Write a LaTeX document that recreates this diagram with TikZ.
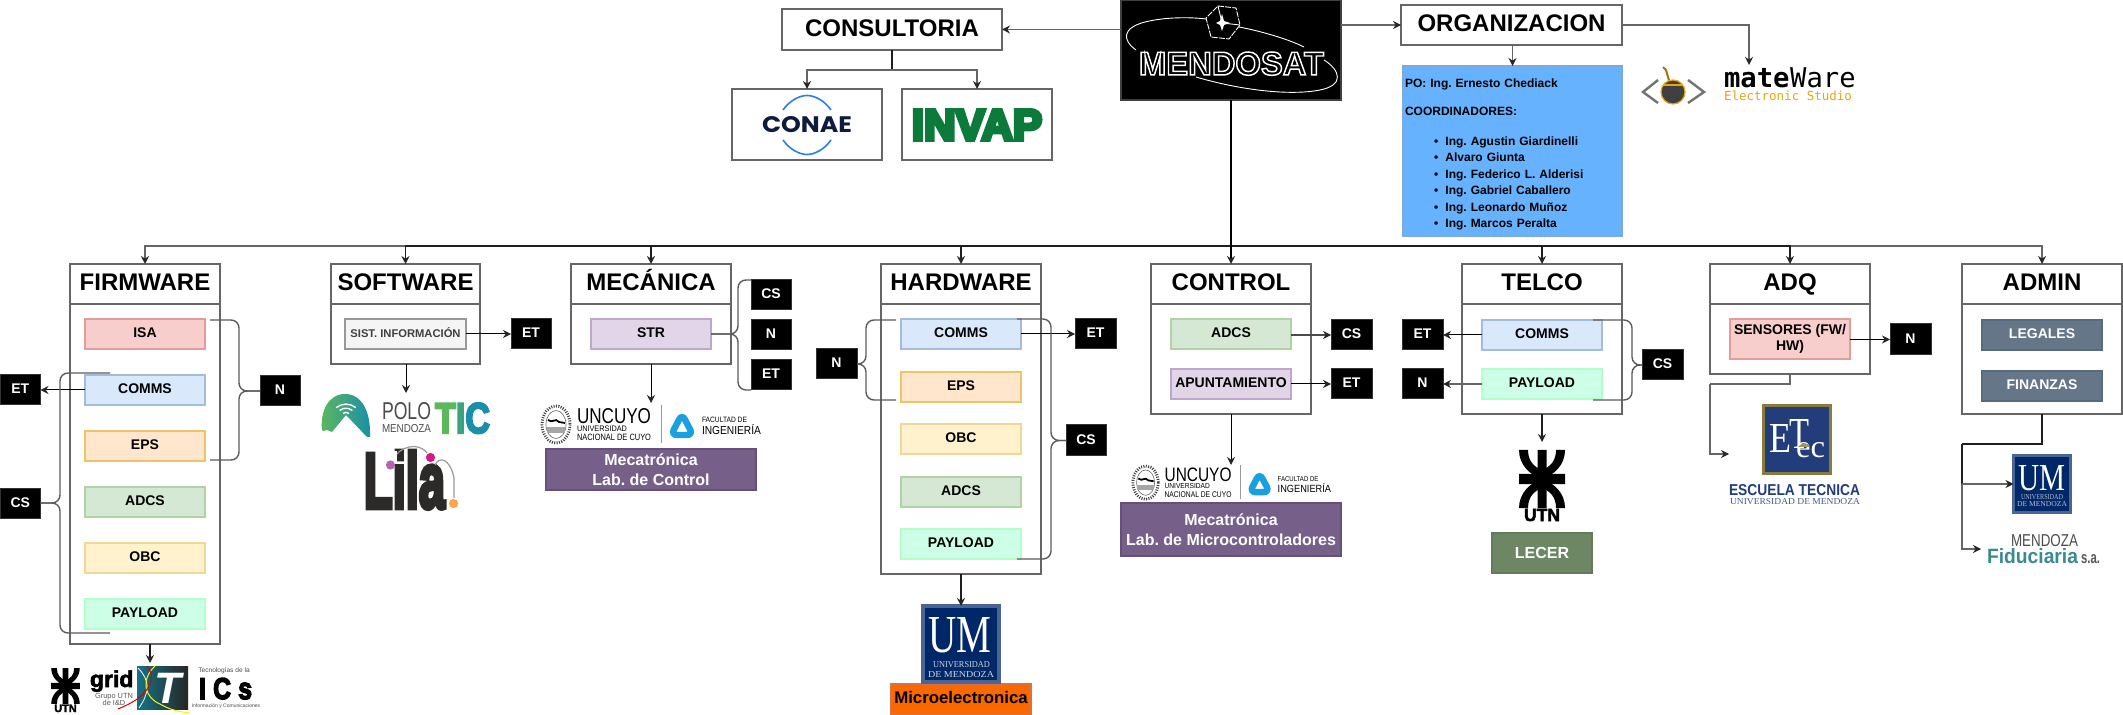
\documentclass[tikz,border=0pt]{standalone}
\usepackage{fontspec}
\usepackage{graphicx}
\usetikzlibrary{arrows.meta,calc}
\setmainfont{Liberation Sans}
\setmonofont{DejaVu Sans Mono}
\newfontfamily\lserif{Liberation Serif}
\newfontfamily\pops{Poppins}
\frenchspacing
\definecolor{cgray}{HTML}{666666}
\definecolor{cdark}{HTML}{1E1E1E}
\definecolor{fisa}{HTML}{F8CECC}\definecolor{sisa}{HTML}{DF9E9C}
\definecolor{fcom}{HTML}{DAE8FC}\definecolor{scom}{HTML}{A3BBDD}
\definecolor{feps}{HTML}{FFE6CC}\definecolor{seps}{HTML}{EEC467}
\definecolor{fadc}{HTML}{D5E8D4}\definecolor{sadc}{HTML}{AFD2A6}
\definecolor{fobc}{HTML}{FFF2CC}\definecolor{sobc}{HTML}{EFD893}
\definecolor{fpay}{HTML}{CCFFE6}\definecolor{spay}{HTML}{B3FFCC}
\definecolor{fstr}{HTML}{E1D5E7}\definecolor{sstr}{HTML}{BFA6CC}
\definecolor{fsis}{HTML}{F5F5F5}\definecolor{ssis}{HTML}{999999}
\definecolor{fadm}{HTML}{647687}\definecolor{sadm}{HTML}{566B80}
\definecolor{fmec}{HTML}{76608A}\definecolor{smec}{HTML}{65507A}
\definecolor{flec}{HTML}{6D8764}\definecolor{slec}{HTML}{617C58}
\definecolor{fmic}{HTML}{FA6800}\definecolor{smic}{HTML}{E0703A}
\definecolor{forg}{HTML}{66B2FF}\definecolor{sorg}{HTML}{7FA8DD}
\definecolor{um}{HTML}{002868}\definecolor{umb}{HTML}{4A6595}
\definecolor{etb}{HTML}{233D7B}\definecolor{etg}{HTML}{8A7A3E}
\definecolor{invap}{HTML}{0B7A3B}\definecolor{conae}{HTML}{0D1B3E}\definecolor{conaeb}{HTML}{2B7DE9}
\definecolor{tica}{HTML}{5CB85C}\definecolor{ticb}{HTML}{1A8FA8}
\definecolor{lila}{HTML}{2B2A29}
\definecolor{gourd}{HTML}{E3A70F}
\definecolor{uncb}{HTML}{1A9FE0}
\definecolor{fidu}{HTML}{3A8A94}
\newcommand\strk[1]{\special{pdf:code 2 Tr #1 w}}
\newcommand\nostrk{\special{pdf:code 0 Tr}}
\newcommand\pxbox[7]{%
  \pgfmathsetmacro\pxCX{(#3+#5)/2}\pgfmathsetmacro\pxCY{(#4+#6)/2}%
  \pgfmathsetmacro\pxW{(#5-#3)*0.5}\pgfmathsetmacro\pxH{(#6-#4)*0.5}%
  \node[#1,minimum width=\pxW pt,minimum height=\pxH pt] (#2) at (\pxCX,\pxCY) {#7};}
\newcommand\logot[7]{%
  \pgfmathsetmacro\pxW{(#4-#2)*0.5}\pgfmathsetmacro\pxH{(#5-#3)*0.5}%
  \node[logotxt,anchor=base west] (#1) at (#2,#5) {\resizebox{\pxW pt}{\pxH pt}{#6{}#7}};}
\newcommand\curlyb[4]{%
  \draw[bracel] (#1) -- (#4 |- #1) -- (#4 |- #3) -- (#3);
  \draw[bracel] (#2) -- (#4 |- #2) -- (#4 |- #3) -- (#3);}
\newcommand\utnlogo[4]{%
  \begin{scope}[shift={(#2,#3)},scale=#4]
    \fill[black] (-23,-5) rectangle (23,5) (-4.5,-29) rectangle (4.5,29);
    \foreach \sx in {1,-1}\foreach \sy in {1,-1}{
      \fill[black,xscale=\sx,yscale=\sy] (-23,-29) -- (-14,-29) .. controls (-14,-18) and (-8,-12) .. (0,-9) -- (0,0) .. controls (-12,-4) and (-23,-14) .. (-23,-29) -- cycle;}
    \node[logotxt,transform shape,anchor=base,font=\fontsize{8.75}{9}\selectfont\bfseries] (#1) at (0,42) {\strk{.25}UTN\nostrk};
  \end{scope}}
\newcommand\uncuyo[4]{%
  \begin{scope}[shift={(#2,#3)},scale=#4]
    \draw[black!75,line width=1.4pt,dash pattern=on .5pt off .7pt] (15,19.5) ellipse [x radius=14,y radius=18.5];
    \draw[black!60,line width=.3pt] (15,19.5) ellipse [x radius=10,y radius=14];
    \fill[black!35] (6,22) rectangle (24,28);
    \draw[black,line width=.9pt] (7,15) .. controls (12,19) and (14,12) .. (18,17) .. controls (20,19) and (22,16) .. (24,18);
    \node[logotxt,transform shape,anchor=base west] (#1a) at (36,18) {\resizebox{37pt}{7.5pt}{UNCUYO}};
    \node[logotxt,transform shape,anchor=base west] (#1b) at (36,26.5) {\resizebox{25pt}{2.8pt}{UNIVERSIDAD}};
    \node[logotxt,transform shape,anchor=base west] (#1c) at (36,35.5) {\resizebox{37pt}{3.2pt}{NACIONAL DE CUYO}};
    \draw[black!40,line width=.4pt] (120,0) -- (120,38);
    \draw[uncb,line width=3.2pt,rounded corners=3pt] (141,9) -- (152,30) -- (130,30) -- cycle;
    \node[logotxt,transform shape,anchor=base west] (#1d) at (161,18) {\resizebox{22.5pt}{2.7pt}{FACULTAD DE}};
    \node[logotxt,transform shape,anchor=base west] (#1e) at (161,30) {\resizebox{29.5pt}{5pt}{INGENIERÍA}};
  \end{scope}}
\tikzset{
  gline/.style={draw=cgray,line width=.75pt},
  dline/.style={draw=cdark,line width=.75pt},
  bline/.style={draw=black,line width=.5pt},
  ar/.style={-{Stealth[length=4pt,width=4pt,inset=1.3pt,color=black!85]}},
  bracel/.style={draw=cgray!90!black,line width=.7pt,rounded corners=4pt},
  titlebox/.style={draw=cgray,fill=white,line width=.75pt,inner sep=0pt,outer sep=0pt,font=\fontsize{12}{14}\selectfont\bfseries,text height=8.6pt,text depth=2pt},
  lane/.style={draw=cgray,fill=white,line width=.75pt,inner sep=0pt,outer sep=0pt},
  item/.style={line width=.7pt,inner sep=0pt,outer sep=0pt,font=\fontsize{7}{8.4}\selectfont\bfseries,text height=5pt,text depth=1.2pt},
  isa/.style={item,fill=fisa,draw=sisa},
  com/.style={item,fill=fcom,draw=scom},
  eps/.style={item,fill=feps,draw=seps},
  adc/.style={item,fill=fadc,draw=sadc},
  obc/.style={item,fill=fobc,draw=sobc},
  pay/.style={item,fill=fpay,draw=spay},
  strb/.style={item,fill=fstr,draw=sstr},
  adm/.style={item,fill=fadm,draw=sadm,text=white},
  tag/.style={fill=black,draw=black!80,line width=.5pt,text=white,inner sep=0pt,outer sep=0pt,font=\fontsize{7}{8.4}\selectfont\bfseries,text height=5pt,text depth=1pt},
  labbox/.style={line width=.6pt,inner sep=0pt,outer sep=0pt,font=\fontsize{8}{10}\selectfont\bfseries,align=center},
  logotxt/.style={inner sep=0pt,outer sep=0pt},
}
\begin{document}
\begin{tikzpicture}[x=.5pt,y=-.5pt]
\path[fill=white] (0,0) rectangle (2123,715);
\useasboundingbox (0,0) rectangle (2123,715);

% --- top row
\pxbox{fill=black,draw=black!75,line width=.6pt,inner sep=0pt,outer sep=0pt}{mendosat}{1121}{0}{1341}{100}{}
\logot{mendosattxt}{1139}{52}{1324}{75}{\bfseries\color{white}\special{pdf:code 1 Tr 0.45 w}}{MENDOSAT\special{pdf:code 0 Tr}}
\begin{scope}[draw=white,line width=.45pt]
  \draw[white] (1136,50) .. controls (1122,40) and (1122,28) .. (1145,22) .. controls (1165,17) and (1190,17) .. (1206,19);
  \draw[white] (1239,27) .. controls (1265,32) and (1290,40) .. (1304,47);
  \draw[white] (1324,60) .. controls (1340,70) and (1345,85) .. (1320,90) .. controls (1290,96) and (1240,90) .. (1196,77);
  \draw[white,dash pattern=on 3pt off .6pt] (1218,6) -- (1236,8) -- (1240,25) -- (1229,39) -- (1211,37) -- (1206,18) -- cycle;
  \fill[white] (1222,14) -- (1224,21) -- (1230,23) -- (1224,25) -- (1222,31) -- (1220,25) -- (1216,23) -- (1220,21) -- cycle;
  \draw[white] (1218,6) -- (1222,23) (1222,23) -- (1240,25);
\end{scope}
\pxbox{titlebox}{consul}{782}{9}{1002}{50}{CONSULTORIA}
\pxbox{lane}{conaebox}{732}{89}{882}{160}{}
\pxbox{lane}{invapbox}{902}{89}{1052}{160}{}
\logot{conaetxt}{762}{117}{852}{133}{\pops\bfseries\color{conae}}{CONAE}
\draw[conaeb,line width=.8pt] (783,110) .. controls (790,100) and (800,95.5) .. (807,95.5) .. controls (814,95.5) and (824,100) .. (831,110);
\draw[conaeb,line width=.8pt] (783,140) .. controls (790,150) and (800,154.5) .. (807,154.5) .. controls (814,154.5) and (824,150) .. (831,140);
\logot{invaptxt}{912}{110}{1042}{140}{\bfseries\color{invap}\strk{.9}}{INVAP\nostrk}
\pxbox{titlebox}{org}{1401}{5}{1622}{45}{ORGANIZACION}
\pxbox{fill=forg,draw=sorg,line width=.7pt,inner sep=1pt,outer sep=0pt,text width=107.5pt,align=left,font=\fontsize{6}{8.25}\selectfont\bfseries}{orgb}{1403}{66}{1622}{236}{%
\rule{0pt}{8pt}PO: Ing. Ernesto Chediack\\[5.75pt]COORDINADORES:\\[6.75pt]%
\hspace*{14.6pt}\makebox[5.6pt][l]{\textbullet}Ing. Agustin Giardinelli\\
\hspace*{14.6pt}\makebox[5.6pt][l]{\textbullet}Alvaro Giunta\\
\hspace*{14.6pt}\makebox[5.6pt][l]{\textbullet}Ing. Federico L. Alderisi\\
\hspace*{14.6pt}\makebox[5.6pt][l]{\textbullet}Ing. Gabriel Caballero\\
\hspace*{14.6pt}\makebox[5.6pt][l]{\textbullet}Ing. Leonardo Muñoz\\
\hspace*{14.6pt}\makebox[5.6pt][l]{\textbullet}Ing. Marcos Peralta}
% mateWare
\draw[black!55,line width=1.2pt] (1658,80) -- (1643,92) -- (1658,103);
\draw[black!55,line width=1.2pt] (1688,80) -- (1704,92) -- (1688,103);
\draw[gourd!70!black,line width=1pt] (1663,67) -- (1666,70) -- (1670,84);
\fill[black!75,draw=gourd,line width=.6pt] (1673,92) circle (12);
\draw[gourd,line width=.6pt] (1663,85) -- (1683,85);
\node[logotxt,anchor=base west,font=\ttfamily\fontsize{13.6}{14}\selectfont] (mate) at (1724,88) {\textbf{mate}\hspace{.3pt}Ware};
\node[logotxt,anchor=base west,text=gourd,font=\ttfamily\fontsize{6.25}{7}\selectfont] (matesub) at (1724,101) {Electronic Studio};

% --- lanes
\pxbox{lane}{fw}{70}{264}{220}{644}{}
\pxbox{titlebox}{fwt}{70}{264}{220}{304}{FIRMWARE}
\pxbox{lane}{sw}{331}{264}{480}{364}{}
\pxbox{titlebox}{swt}{331}{264}{480}{304}{SOFTWARE}
\pxbox{lane}{me}{571}{264}{731}{364}{}
\pxbox{titlebox}{met}{571}{264}{731}{304}{MECÁNICA}
\pxbox{lane}{hw}{881}{264}{1041}{574}{}
\pxbox{titlebox}{hwt}{881}{264}{1041}{304}{HARDWARE}
\pxbox{lane}{ct}{1151}{264}{1311}{414}{}
\pxbox{titlebox}{ctt}{1151}{264}{1311}{304}{CONTROL}
\pxbox{lane}{te}{1462}{264}{1622}{414}{}
\pxbox{titlebox}{tet}{1462}{264}{1622}{304}{TELCO}
\pxbox{lane}{aq}{1710}{264}{1870}{374}{}
\pxbox{titlebox}{aqt}{1710}{264}{1870}{304}{ADQ}
\pxbox{lane}{ad}{1962}{264}{2122}{414}{}
\pxbox{titlebox}{adt}{1962}{264}{2122}{304}{ADMIN}

% --- items
\pxbox{isa}{fwisa}{85}{319}{205}{349}{ISA}
\pxbox{com}{fwcom}{85}{375}{205}{405}{COMMS}
\pxbox{eps}{fweps}{85}{431}{205}{461}{EPS}
\pxbox{adc}{fwadc}{85}{487}{205}{517}{ADCS}
\pxbox{obc}{fwobc}{85}{543}{205}{573}{OBC}
\pxbox{pay}{fwpay}{85}{599}{205}{629}{PAYLOAD}
\pxbox{item,fill=fsis,draw=ssis,text=black!75,font=\fontsize{5.6}{7}\selectfont\bfseries}{swsis}{345}{319}{466}{349}{SIST. INFORMACIÓN}
\pxbox{strb}{mestr}{591}{319}{711}{349}{STR}
\pxbox{com}{hwcom}{901}{319}{1021}{349}{COMMS}
\pxbox{eps}{hweps}{901}{372}{1021}{402}{EPS}
\pxbox{obc}{hwobc}{901}{424}{1021}{454}{OBC}
\pxbox{adc}{hwadc}{901}{477}{1021}{507}{ADCS}
\pxbox{pay}{hwpay}{901}{529}{1021}{559}{PAYLOAD}
\pxbox{adc}{ctadc}{1171}{319}{1291}{349}{ADCS}
\pxbox{strb}{ctapu}{1171}{369}{1291}{399}{APUNTAMIENTO}
\pxbox{com}{tecom}{1482}{320}{1602}{350}{COMMS}
\pxbox{pay}{tepay}{1482}{369}{1602}{399}{PAYLOAD}
\pxbox{isa,text height=,text depth=,align=center,font=\fontsize{7}{8.3}\selectfont\bfseries}{aqsen}{1730}{319}{1850}{359}{SENSORES (FW/\\HW)}
\pxbox{adm}{adleg}{1982}{320}{2102}{350}{LEGALES}
\pxbox{adm}{adfin}{1982}{371}{2102}{401}{FINANZAS}

% --- tags
\pxbox{tag}{fwet}{0}{375}{40.5}{405}{ET}
\pxbox{tag}{fwcs}{0}{488}{40.5}{518}{CS}
\pxbox{tag}{fwn}{260}{376}{300}{406}{N}
\pxbox{tag}{swet}{511}{319}{551}{349}{ET}
\pxbox{tag}{mecs}{751}{280}{791}{310}{CS}
\pxbox{tag}{men}{751}{320}{791}{350}{N}
\pxbox{tag}{meet}{751}{360}{791}{390}{ET}
\pxbox{tag}{hwn}{816}{349}{857}{379}{N}
\pxbox{tag}{hwet}{1075}{319}{1116}{349}{ET}
\pxbox{tag}{hwcs}{1066}{425}{1106}{456}{CS}
\pxbox{tag}{ctcs}{1331}{320}{1372}{350}{CS}
\pxbox{tag}{ctet}{1331}{369}{1372}{399}{ET}
\pxbox{tag}{teet}{1402}{320}{1443}{350}{ET}
\pxbox{tag}{ten}{1402}{369}{1443}{399}{N}
\pxbox{tag}{tecs}{1642}{350}{1683}{380}{CS}
\pxbox{tag}{aqn}{1890}{324}{1931}{355}{N}

% --- lab boxes and logos below the lanes
\pxbox{labbox,fill=fmec,draw=smec,text=white}{melab}{546}{449}{756}{490}{Mecatrónica\\Lab. de Control}
\pxbox{labbox,fill=fmec,draw=smec,text=white}{ctlab}{1121}{503}{1341}{556}{Mecatrónica\\Lab. de Microcontroladores}
\pxbox{labbox,fill=flec,draw=slec,text=white}{telec}{1492}{533}{1592}{573}{LECER}
\pxbox{labbox,fill=fmic,draw=smic,text=black,font=\fontsize{8.4}{10}\selectfont\bfseries,text height=6pt,text depth=1.6pt}{hwmic}{891}{684}{1031}{714}{Microelectronica}
% UM (hardware)
\pxbox{fill=um,draw=umb,line width=1.6pt,inner sep=0pt,outer sep=0pt}{hwum}{923}{606}{999}{682}{}
\logot{hwumt}{928}{617}{991}{652}{\lserif\color{white}}{UM}
\logot{hwumu}{933}{661}{990}{667}{\lserif\color{white!80!um}}{UNIVERSIDAD}
\logot{hwumd}{928}{671}{994}{677}{\lserif\color{white!80!um}}{DE MENDOZA}
% UM (admin)
\pxbox{fill=um,draw=umb,line width=1.2pt,inner sep=0pt,outer sep=0pt}{adum}{2013.5}{455.5}{2070.5}{512.5}{}
\logot{adumt}{2018}{465}{2065}{490}{\lserif\color{white}}{UM}
\logot{adumu}{2021}{494}{2063}{499}{\lserif\color{white!70!um}}{UNIVERSIDAD}
\logot{adumd}{2017}{501}{2067}{506}{\lserif\color{white!70!um}}{DE MENDOZA}
% ETec
\pxbox{fill=etb,draw=etg,line width=1.6pt,inner sep=0pt,outer sep=0pt}{etec}{1763.5}{405.5}{1830.5}{473.5}{}
\logot{etE}{1769}{425}{1791}{453}{\lserif\color{white}}{E}
\logot{etT}{1789}{420}{1809}{449}{\lserif\color{white}}{T}
\logot{etc}{1796}{443}{1825}{458}{\lserif\color{white}}{ec}
\fill[etg!80!white] (1798,447) .. controls (1802,442) and (1808,442) .. (1810,447) -- cycle;
\logot{etname}{1729}{484}{1860}{495}{\bfseries\color{etb}}{ESCUELA TECNICA}
\logot{etuni}{1730}{498}{1860}{504}{\lserif\color{etb!85!white}}{UNIVERSIDAD DE MENDOZA}
% Fiduciaria
\logot{fidm}{2011}{534}{2078}{546}{\color{black!70}}{MENDOZA}
\logot{fidf}{1987}{548}{2078}{563}{\bfseries\color{fidu}}{Fiduciaria}
\logot{fids}{2081}{554}{2100}{563}{\bfseries\color{black!65}}{s.a.}
% UTN
\utnlogo{teutn}{1542}{479}{1}
\utnlogo{fwutn}{65.5}{686}{.62}
% grid / T / ICs
\node[logotxt,anchor=base west,font=\fontsize{11.5}{12}\selectfont\bfseries] (gridt) at (90,687) {\strk{.3}grid\nostrk};
\node[logotxt,text=black!65,font=\fontsize{3.7}{4}\selectfont] (gridu) at (114,696.5) {Grupo UTN};
\node[logotxt,text=black!65,font=\fontsize{3.7}{4}\selectfont] (gridd) at (114,703) {de I\&D};
\shade[left color=ticb!80!black,right color=black!85] (137,666) rectangle (188,709);
\draw[white,line width=.4pt] (138,668) .. controls (150,680) and (150,692) .. (139,708);
\draw[yellow,line width=.5pt] (155,666) .. controls (140,680) and (145,698) .. (160,704) .. controls (170,710) and (180,712) .. (190,713);
\draw[red!85!black,line width=.5pt] (147,666) .. controls (155,676) and (152,686) .. (140,697) .. controls (132,703) and (125,706) .. (118,709);
\node[logotxt,anchor=base,text=white,font=\fontsize{22}{24}\selectfont\bfseries\itshape] (gridT) at (168,703) {T};
\node[logotxt,text=black!70,font=\fontsize{3.3}{4}\selectfont] (icsa) at (224,671) {Tecnologías de la};
\logot{icsb}{199}{678}{252}{699}{\bfseries\strk{.5}}{I\hspace{.3em}C\hspace{.3em}s\nostrk}
\node[logotxt,text=black!70,font=\fontsize{2.5}{3}\selectfont] (icsc) at (226,706.5) {Información y Comunicaciones};
% Polo TIC
\shade[left color=tica,right color=ticb] (322,430) .. controls (320,412) and (328,394) .. (345,394) .. controls (362,394) and (371,412) .. (370,437) -- (367,437) -- (346,415) -- (332,432) -- (327,430) -- (323,431) -- cycle;
\foreach \r in {4,8.5,13}{\draw[white,line width=.7pt] ($(346,416)+(-\r*0.75,-\r*0.65)$) .. controls ($(346,416)+(-\r*0.3,-\r)$) and ($(346,416)+(\r*0.3,-\r)$) .. ($(346,416)+(\r*0.75,-\r*0.65)$);}
\logot{polo}{382}{403}{431}{420}{\color{black!70}}{POLO}
\logot{polom}{382}{425}{431}{433}{\color{black!70}}{MENDOZA}
\logot{ticw}{435}{403}{490}{433}{\bfseries\strk{.5}}{\textcolor{tica}{T}\textcolor{tica!50!ticb}{I}\textcolor{ticb}{C}\nostrk}
% Lila
\logot{lilat}{364}{451}{445}{508}{\bfseries\color{lila}\strk{.6}}{Lila\nostrk}
\draw[black!40,line width=.6pt] (393,460) .. controls (398,447) and (418,441) .. (427,453);
\draw[black!40,line width=.6pt] (435,465) .. controls (439,456) and (450,458) .. (454,478) -- (454,498);
\fill[white] (385,451) rectangle (397,462);
\fill[violet!60!white] (390.5,465) circle (4.6);
\fill[magenta!90!black] (430.5,457.5) circle (4.6);
\fill[orange!70!white] (453.5,503.5) circle (4.6);
% UNCUYO
\uncuyo{mu}{541}{405}{1}
\uncuyo{cu}{1132}{465}{.905}

% --- bus and connectors
\coordinate (bus) at (0,246);
\draw[gline,ar] (mendosat.south) -- (mendosat.south |- bus) -| (fwt.north);
\draw[gline,ar] (mendosat.south) -- (mendosat.south |- bus) -| (adt.north);
\draw[dline,ar,line width=.85pt] (mendosat.south) -- (mendosat.south |- bus) -| (aqt.north);
\draw[dline,ar,line width=.85pt] (mendosat.south) -- (mendosat.south |- bus) -| (swt.north);
\draw[dline,ar,line width=.85pt] (mendosat.south) -- (mendosat.south |- bus) -| (met.north);
\draw[dline,ar,line width=.85pt] (mendosat.south) -- (mendosat.south |- bus) -| (hwt.north);
\draw[dline,ar,line width=.85pt] (mendosat.south) -- (mendosat.south |- bus) -| (tet.north);
\draw[draw=black,ar,line width=1pt] (mendosat.south) -- (ctt.north);
% top
\draw[gline,ar] (consul.east -| mendosat.west) -- (consul.east);
\draw[gline,ar] (org.west -| mendosat.east) -- (org.west);
\coordinate (consj) at (892,70);
\draw[dline] (consul.south -| consj) -- (consj);
\draw[gline,ar] (consj) -| (conaebox.north);
\draw[gline,ar] (consj) -| (invapbox.north);
\draw[gline,ar] (org.south -| orgb.north) -- (orgb.north);
\coordinate (matein) at (1749,65);
\draw[gline,ar] (org.east) -| (matein);
% firmware
\draw[bline,ar] (fwcom.west) -- (fwet.east);
\coordinate (fwa) at (110,373);
\coordinate (fwb) at (110,633);
\coordinate (fwk) at (60,500);
\curlyb{fwa}{fwb}{fwcs.east}{fwk}
\coordinate (fwc) at (210,320);
\coordinate (fwd) at (210,460);
\coordinate (fwl) at (239,390);
\curlyb{fwc}{fwd}{fwn.west}{fwl}
\coordinate (fwin) at (150,663);
\draw[dline,ar] (fw.south -| fwin) -- (fwin);
% software
\draw[bline,ar] (swsis.east) -- (swet.west);
\coordinate (swin) at (406,393);
\draw[bline,ar] (sw.south -| swin) -- (swin);
% mecanica
\coordinate (mek) at (738,334);
\curlyb{mecs.north west}{meet.south west}{mestr.east}{mek}
\coordinate (mein) at (651,403);
\draw[bline,ar] (me.south) -- (mein);
% hardware
\coordinate (hwa) at (896,320);
\coordinate (hwb) at (896,400);
\coordinate (hwk) at (866,360);
\curlyb{hwa}{hwb}{hwn.east}{hwk}
\draw[bline,ar] (hwcom.east) -- (hwet.west);
\coordinate (hwc) at (1017,319);
\coordinate (hwd) at (1017,559);
\coordinate (hwl) at (1051,439);
\curlyb{hwc}{hwd}{hwcs.west}{hwl}
\draw[dline,ar] (hw.south) -- (hwum.north);
% control
\draw[gline,ar,line width=.55pt,draw=cdark!80] (ctcs.west -| ctadc.east) -- (ctcs.west);
\draw[bline,ar] (ctapu.east) -- (ctet.west);
\coordinate (ctin) at (1231,465);
\draw[bline,ar] (ct.south) -- (ctin);
% telco
\draw[bline,ar] (tecom.west) -- (teet.east);
\draw[gline,ar,line width=.6pt] (tepay.west) -- (ten.east);
\coordinate (tea) at (1593,320);
\coordinate (teb) at (1593,400);
\coordinate (tek) at (1632,360);
\curlyb{tea}{teb}{tecs.west}{tek}
\coordinate (tein) at (1542,442);
\draw[dline,ar] (te.south) -- (tein);
% adq
\draw[bline,ar] (aqn.west -| aqsen.east) -- (aqn.west);
\coordinate (aqk) at (1710,384);
\coordinate (etin) at (1729,454);
\draw[gline] (aq.south) |- (aqk);
\draw[gline,ar] (aqk) |- (etin);
% admin
\coordinate (adk) at (1962,444);
\coordinate (fidin) at (1981,549);
\draw[gline,ar] (adk) |- (fidin);
\draw[dline] (ad.south) |- (adk);
\draw[dline] (adk) -- (adk |- adum.west);
\draw[gline,ar] (adk |- adum.west) -- (adum.west);
\end{tikzpicture}
\end{document}
